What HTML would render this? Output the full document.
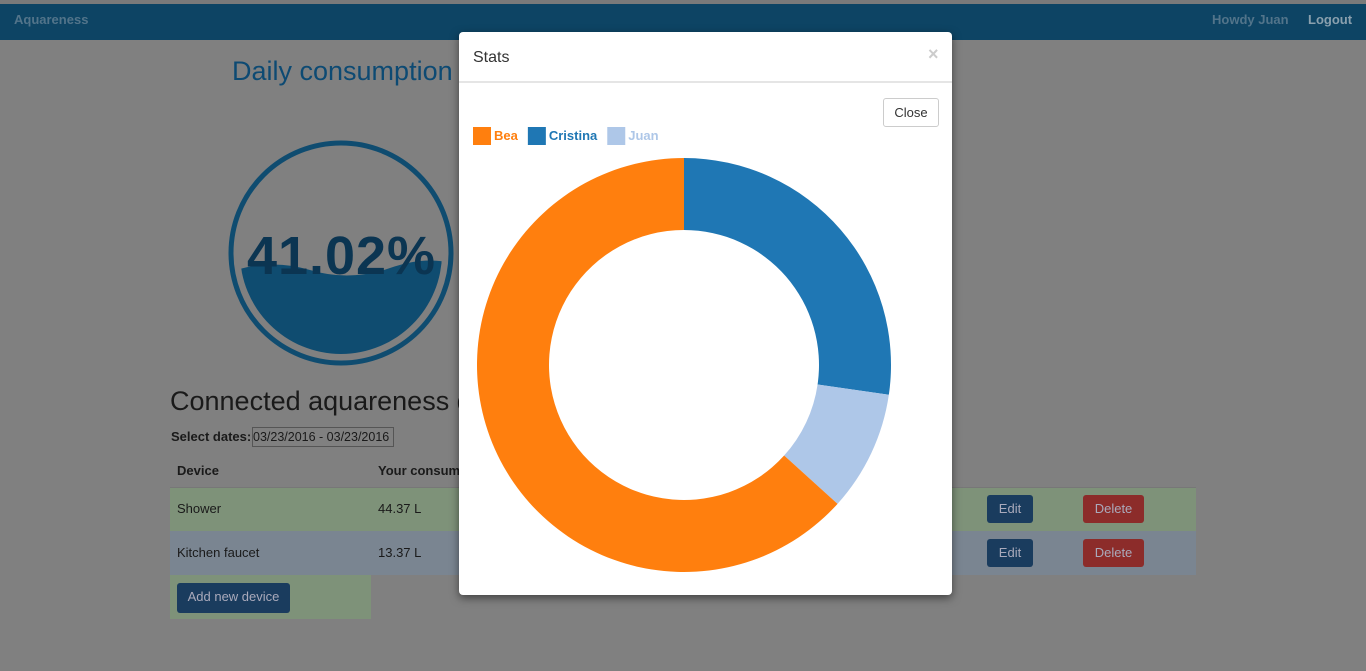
<!DOCTYPE html>
<html><head><meta charset="utf-8"><style>
body{margin:0;width:1366px;height:671px;overflow:hidden;background:#808080;font-family:"Liberation Sans",sans-serif;position:relative}
.abs{position:absolute}
.btn{position:absolute;border-radius:3px;color:#aab;font-size:14px;text-align:center;line-height:28px}
</style></head><body>
<div class="abs" style="left:0;top:0;width:1366px;height:4px;background:#7a7a7a"></div>
<div class="abs" style="left:0;top:4px;width:1366px;height:36px;background:#0d4464"></div>
<div class="abs" style="left:14px;top:12px;font-size:13px;font-weight:bold;color:#52748a">Aquareness</div>
<div class="abs" style="left:1212px;top:12px;font-size:13px;font-weight:bold;color:#52748a">Howdy Juan</div>
<div class="abs" style="left:1308px;top:12px;font-size:13px;font-weight:bold;color:#8aa0ae">Logout</div>
<div class="abs" style="left:232px;top:56px;font-size:27px;color:#0d4a73">Daily consumption</div>
<svg class="abs" style="left:0;top:0" width="1366" height="671">
<circle cx="341" cy="253" r="110" fill="none" stroke="#0f4c70" stroke-width="5"/>
<clipPath id="c"><circle cx="341" cy="253" r="101"/></clipPath>
<path clip-path="url(#c)" d="M230 272 Q270 258 310 270 T390 268 T460 266 L460 360 L230 360Z" fill="#0f4c70"/>
<text x="341" y="274" text-anchor="middle" font-family="Liberation Sans" font-weight="bold" font-size="54" fill="#0b3552" textLength="188">41.02%</text>
</svg>
<div class="abs" style="left:170px;top:386px;font-size:27px;color:#1a1a1a">Connected aquareness d</div>
<div class="abs" style="left:171px;top:429px;font-size:13px;font-weight:bold;color:#1a1a1a">Select dates:</div>
<div class="abs" style="left:252px;top:427px;width:140px;height:18px;border:1px solid #555;font-size:12.5px;line-height:18px;color:#1a1a1a;white-space:nowrap;overflow:hidden">03/23/2016 - 03/23/2016</div>
<div class="abs" style="left:177px;top:463px;font-size:13px;font-weight:bold;color:#1a1a1a">Device</div>
<div class="abs" style="left:378px;top:463px;font-size:13px;font-weight:bold;color:#1a1a1a">Your consumption</div>
<div class="abs" style="left:170px;top:487px;width:1026px;height:44px;background:#7e9279;border-top:1px solid #777"></div>
<div class="abs" style="left:170px;top:531px;width:1026px;height:44px;background:#7a8591"></div>
<div class="abs" style="left:170px;top:575px;width:201px;height:44px;background:#7e9279"></div>
<div class="abs" style="left:177px;top:501px;font-size:13px;color:#1a1a1a">Shower</div>
<div class="abs" style="left:378px;top:501px;font-size:13px;color:#1a1a1a">44.37 L</div>
<div class="abs" style="left:177px;top:545px;font-size:13px;color:#1a1a1a">Kitchen faucet</div>
<div class="abs" style="left:378px;top:545px;font-size:13px;color:#1a1a1a">13.37 L</div>
<div class="btn" style="left:987px;top:495px;width:46px;background:#1a3c5e;font-size:13px">Edit</div>
<div class="btn" style="left:1083px;top:495px;width:61px;background:#8c2c2a;font-size:13px">Delete</div>
<div class="btn" style="left:987px;top:539px;width:46px;background:#1a3c5e;font-size:13px">Edit</div>
<div class="btn" style="left:1083px;top:539px;width:61px;background:#8c2c2a;font-size:13px">Delete</div>
<div class="btn" style="left:177px;top:583px;width:113px;height:30px;line-height:28px;background:#1a3c5e;font-size:13px">Add new device</div>

<div class="abs" style="left:459px;top:32px;width:493px;height:563px;background:#fff;border-radius:4px;box-shadow:0 3px 9px rgba(0,0,0,.5)">
<div class="abs" style="left:14px;top:17px;font-size:16px;color:#333">Stats</div>
<div class="abs" style="left:469px;top:12px;font-size:18px;color:#ccc;font-weight:bold">×</div>
<div class="abs" style="left:0;top:49px;width:493px;height:2px;background:#e5e5e5"></div>
<div class="abs" style="left:424px;top:66px;width:54px;height:27px;border:1px solid #ccc;border-radius:3px;font-size:13px;line-height:27px;text-align:center;color:#333">Close</div>
</div>
<svg id="chart" class="abs" style="left:0;top:0" width="1366" height="671"></svg>
<script>
const names=["Cristina","Juan","Bea"];
const values=[27.3,9.4,63.3];
const legendNames=["Bea","Cristina","Juan"];
const colors={Bea:"#ff7f0e",Cristina:"#1f77b4",Juan:"#aec7e8"};
const svg=document.getElementById('chart');const NS="http://www.w3.org/2000/svg";
const cx=684,cy=365,R=207,r=135;
const total=values.reduce((a,b)=>a+b,0);
let a0=0;
function pt(a,rad){return [cx+rad*Math.sin(a),cy-rad*Math.cos(a)];}
values.forEach((v,i)=>{
 const a1=a0+v/total*2*Math.PI;const lg=(a1-a0)>Math.PI?1:0;
 const p1=pt(a0,R),p2=pt(a1,R),p3=pt(a1,r),p4=pt(a0,r);
 const p=document.createElementNS(NS,'path');
 p.setAttribute('d',`M${p1}A${R},${R} 0 ${lg} 1 ${p2}L${p3}A${r},${r} 0 ${lg} 0 ${p4}Z`);
 p.setAttribute('fill',colors[names[i]]);
 
 
 svg.appendChild(p);a0=a1;
});
let lx=473;
legendNames.forEach(n=>{
 const g=document.createElementNS(NS,'g');
 
 
 const rc=document.createElementNS(NS,'rect');
 rc.setAttribute('x',lx);rc.setAttribute('y',127);rc.setAttribute('width',18);rc.setAttribute('height',18);rc.setAttribute('fill',colors[n]);
 const t=document.createElementNS(NS,'text');
 t.setAttribute('x',lx+21);t.setAttribute('y',140);t.setAttribute('font-size',13);t.setAttribute('font-weight','bold');
 t.setAttribute('font-family','Liberation Sans');t.setAttribute('fill',colors[n]);t.textContent=n;
 g.appendChild(rc);g.appendChild(t);svg.appendChild(g);
 lx+=21+t.getComputedTextLength()+10;
});
</script>
</body></html>
